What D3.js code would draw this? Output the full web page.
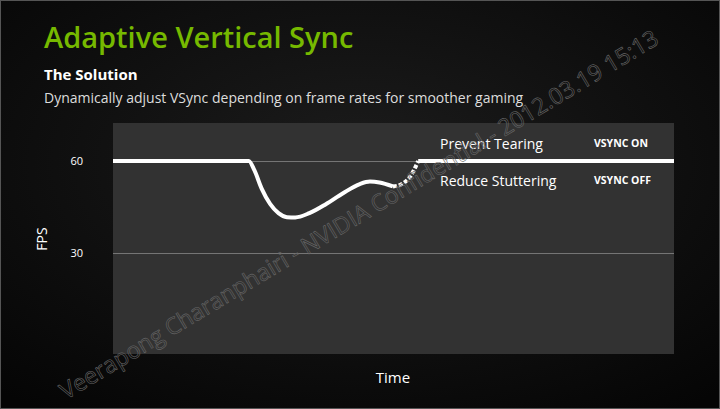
<!DOCTYPE html><html><head><meta charset="utf-8"><script src="https://cdn.jsdelivr.net/npm/d3@7"></script>
<style>body{margin:0;background:#000}svg{display:block}</style></head><body><svg id="c" width="720" height="409"></svg>
<script>
const yTicks=[30,60];
const yTickLabels=["30","60"];
const solidT=[0,24.2,25.2,26.5,28,29.5,31,32.5,35,38,41,44,45.8,47.5,49.9];
const solidV=[60,60,57,51,46,43,41.7,41.6,43,46,49.5,52.5,53.3,53,51.7];
const dashT=[49.9,51.5,53,54.4];
const dashV=[51.7,52.5,55,60];
const tailT=[54.4,100];
const tailV=[60,60];
const labels=["Prevent Tearing","Reduce Stuttering"];
const modes=["VSYNC ON","VSYNC OFF"];
const svg=d3.select("#c");
const defs=svg.append("defs");
const g=defs.append("radialGradient").attr("id","bg").attr("cx","50%").attr("cy","40%").attr("r","75%");
g.append("stop").attr("offset","0").attr("stop-color","#1c1c1c");
g.append("stop").attr("offset","1").attr("stop-color","#050505");
svg.append("rect").attr("width",720).attr("height",409).attr("fill","url(#bg)");
svg.append("rect").attr("x",0.5).attr("y",0.5).attr("width",719).attr("height",408).attr("fill","none").attr("stroke","#555");
svg.append("text").attr("x",44).attr("y",48).attr("fill","#76b900").attr("font-family","Open Sans").attr("font-weight",600).attr("font-size",29).text("Adaptive Vertical Sync");
svg.append("text").attr("x",44).attr("y",80).attr("fill","#fff").attr("font-family","Open Sans").attr("font-weight","bold").attr("font-size",15).text("The Solution");
svg.append("text").attr("x",44).attr("y",103).attr("fill","#ddd").attr("font-family","Open Sans").attr("font-size",14).text("Dynamically adjust VSync depending on frame rates for smoother gaming");
const L=113,R=674,T=123,B=354;
const x=d3.scaleLinear().domain([0,100]).range([L,R]);
const y=d3.scaleLinear().domain([-2.93,72.4]).range([B,T]);
svg.append("rect").attr("x",L).attr("y",T).attr("width",R-L).attr("height",B-T).attr("fill","#323232");
const ax=svg.append("g").attr("transform",`translate(${L},0)`).call(d3.axisLeft(y).tickValues(yTicks).tickFormat((d,i)=>yTickLabels[i]).tickSize(-(R-L)).tickPadding(30));
ax.select(".domain").remove();
ax.selectAll("line").attr("stroke","#777");
ax.selectAll("text").attr("fill","#fff").attr("font-family","Open Sans").attr("font-size",11);
svg.append("text").attr("transform","translate(47,239) rotate(-90)").attr("text-anchor","middle").attr("fill","#fff").attr("font-family","Open Sans").attr("font-size",14).text("FPS");
svg.append("text").attr("x",393).attr("y",383).attr("text-anchor","middle").attr("fill","#fff").attr("font-family","Open Sans").attr("font-size",15).text("Time");
const line=d3.line().x(d=>x(d[0])).y(d=>y(d[1])).curve(d3.curveMonotoneX);
const z=(a,b)=>a.map((t,i)=>[t,b[i]]);
svg.append("path").attr("d",line(z(solidT,solidV))).attr("fill","none").attr("stroke","#fff").attr("stroke-width",4);
svg.append("path").attr("d",line(z(dashT,dashV))).attr("fill","none").attr("stroke","#fff").attr("stroke-width",4).attr("stroke-dasharray","4,2");
svg.append("path").attr("d",line(z(tailT,tailV))).attr("fill","none").attr("stroke","#fff").attr("stroke-width",4);
labels.forEach((l,i)=>{
 svg.append("text").attr("x",440).attr("y",149+i*37).attr("fill","#fff").attr("font-family","Open Sans").attr("font-size",14).text(l);
 svg.append("text").attr("x",594).attr("y",147+i*37).attr("fill","#fff").attr("font-family","Open Sans").attr("font-weight","bold").attr("font-size",10.5).text(modes[i]);
});
svg.append("text").attr("transform","translate(66,400) rotate(-31)").attr("fill","none").attr("stroke","#666").attr("stroke-width",0.6).attr("font-family","Open Sans").attr("font-size",23).text("Veerapong Charanphairi - NVIDIA Confidential - 2012.03.19 15:13");
</script></body></html>
